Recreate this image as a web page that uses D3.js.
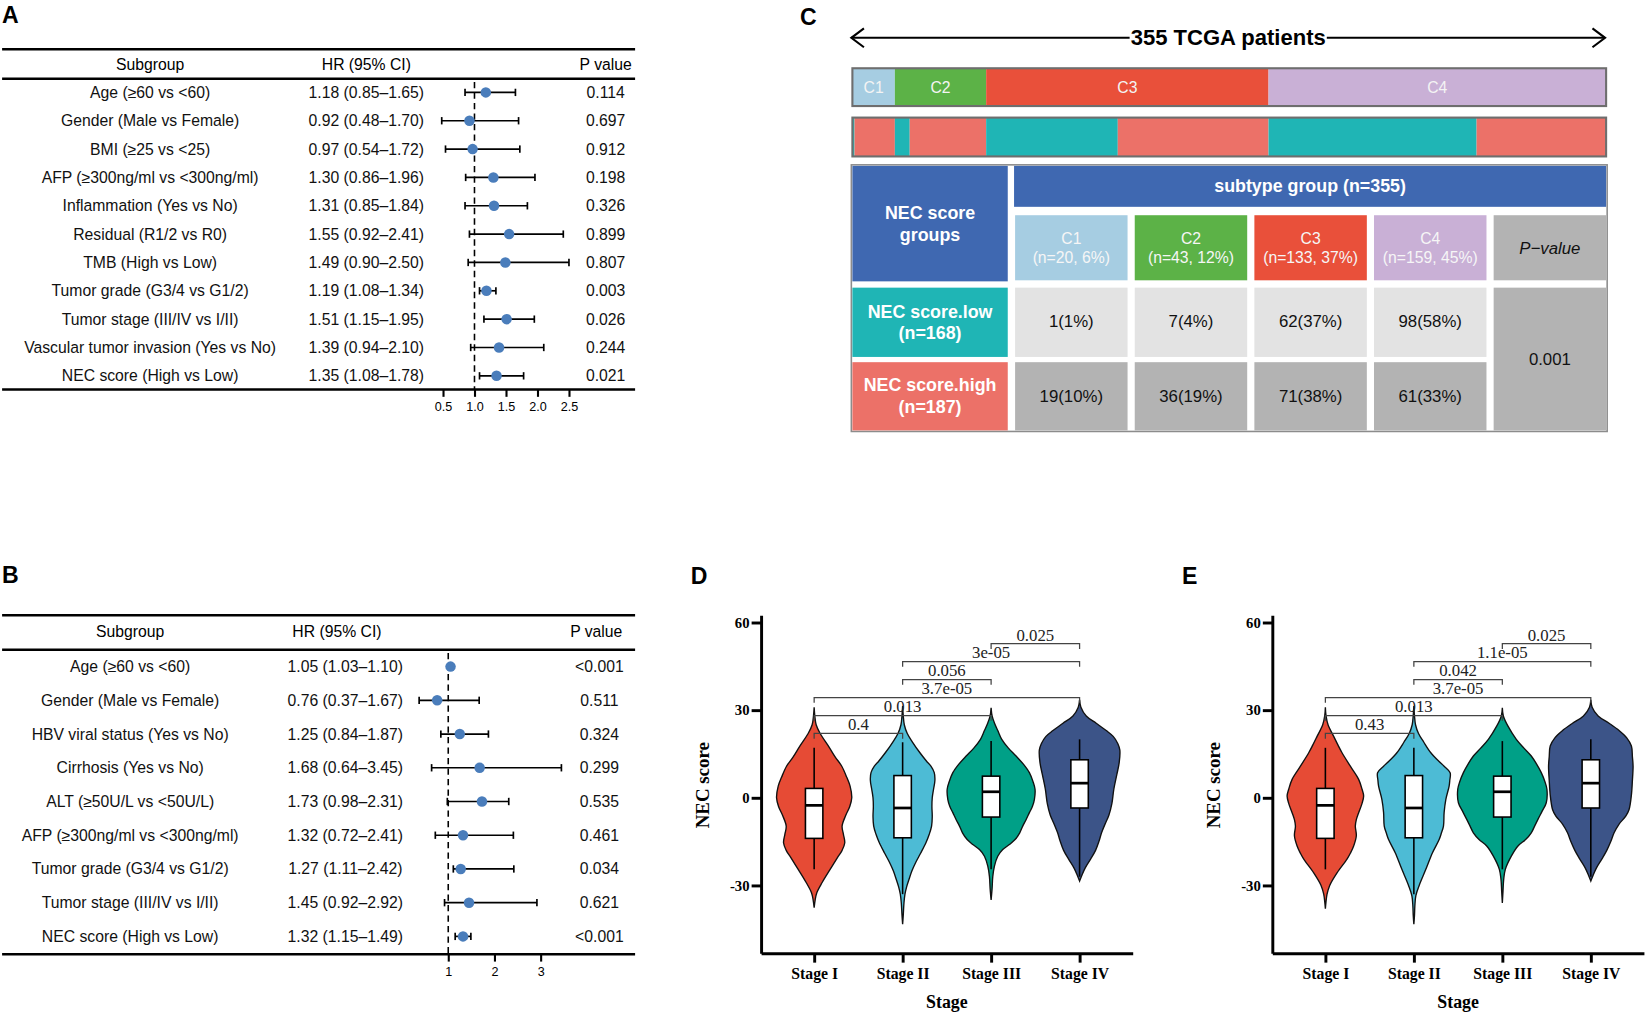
<!DOCTYPE html>
<html>
<head>
<meta charset="utf-8">
<script src="https://cdn.jsdelivr.net/npm/d3@7"></script>
<style>
  body { margin: 0; background: #fff; }
</style>
</head>
<body>
<div id="fig"></div>
<script>
const SANS = '"Liberation Sans", Arial, sans-serif';
const SERIF = '"Liberation Serif", "Times New Roman", serif';

// ---- A: univariate cox
let aSubgroups = ['Age (≥60 vs <60)', 'Gender (Male vs Female)', 'BMI (≥25 vs <25)',
    'AFP (≥300ng/ml vs <300ng/ml)', 'Inflammation (Yes vs No)', 'Residual (R1/2 vs R0)',
    'TMB (High vs Low)', 'Tumor grade (G3/4 vs G1/2)', 'Tumor stage (III/IV vs I/II)',
    'Vascular tumor invasion (Yes vs No)', 'NEC score (High vs Low)'];
let aHR = [1.18, 0.92, 0.97, 1.30, 1.31, 1.55, 1.49, 1.19, 1.51, 1.39, 1.35];
let aLower = [0.85, 0.48, 0.54, 0.86, 0.85, 0.92, 0.90, 1.08, 1.15, 0.94, 1.08];
let aUpper = [1.65, 1.70, 1.72, 1.96, 1.84, 2.41, 2.50, 1.34, 1.95, 2.10, 1.78];
let aPvals = ['0.114', '0.697', '0.912', '0.198', '0.326', '0.899', '0.807', '0.003', '0.026', '0.244', '0.021'];
let aTicks = [0.5, 1.0, 1.5, 2.0, 2.5];

// ---- B: second cohort
let bSubgroups = ['Age (≥60 vs <60)', 'Gender (Male vs Female)', 'HBV viral status (Yes vs No)',
    'Cirrhosis (Yes vs No)', 'ALT (≥50U/L vs <50U/L)', 'AFP (≥300ng/ml vs <300ng/ml)',
    'Tumor grade (G3/4 vs G1/2)', 'Tumor stage (III/IV vs I/II)', 'NEC score (High vs Low)'];
let bHR = [1.05, 0.76, 1.25, 1.68, 1.73, 1.32, 1.27, 1.45, 1.32];
let bLower = [1.03, 0.37, 0.84, 0.64, 0.98, 0.72, 1.11, 0.92, 1.15];
let bUpper = [1.10, 1.67, 1.87, 3.45, 2.31, 2.41, 2.42, 2.92, 1.49];
let bPvals = ['<0.001', '0.511', '0.324', '0.299', '0.535', '0.461', '0.034', '0.621', '<0.001'];
let bTicks = [1, 2, 3];

// ---- C: subtype vs NEC group
let subtypes = ['C1', 'C2', 'C3', 'C4'];
let subtypeN = [20, 43, 133, 159];
let necLowN = [1, 7, 62, 98];
let necHighN = [19, 36, 71, 61];
let chiP = '0.001';

// ---- D / E: NEC score by stage, violin profiles [score, density]
let stages = ['Stage I', 'Stage II', 'Stage III', 'Stage IV'];
let dDensI = [[31,0],[28,2],[25,6],[22,18],[17.7,43],[14,63],[10.8,83],[7,98],[4,108],[0,113],[-3,107],[-6,95],[-9.7,84],[-12.5,88],[-15.4,92],[-18,84],[-20.5,70],[-24.5,48],[-29,24],[-32.5,8],[-35,3],[-37.6,0]];
let dDensII = [[31.4,0],[28,2],[25,5],[22,14],[19,30],[15.4,52],[12.5,72],[10.8,85],[8.6,95],[6,97],[3,93],[0,89],[-3,88],[-6.5,89],[-9.7,87],[-12.5,80],[-15.4,70],[-19,54],[-22,40],[-25,28],[-28,19],[-30.5,12],[-33,7],[-36,4],[-40,2],[-43.3,0]];
let dDensIII = [[30.8,0],[28,3],[25.6,10],[23,20],[20,32],[17,52],[14.3,75],[11.5,97],[8.6,115],[5.5,126],[2.9,132],[-0.6,130],[-3,124],[-5.1,115],[-7.5,105],[-9.7,95],[-12,86],[-14.3,72],[-16,55],[-17.7,35],[-20,20],[-23.4,10],[-27,5],[-31,3],[-35,0]];
let dDensIV = [[33.5,0],[31,4],[28,20],[25.5,50],[23,80],[21,101],[18.5,115],[16.3,121],[12,119],[8,112],[3,103],[-2,97],[-6,88],[-8.6,78],[-12,66],[-15,58],[-18,48],[-21,33],[-24,17],[-26.5,7],[-28.5,0]];
let eDensI = [[31,0],[28,2],[25,8],[21,25],[18,38],[15.4,50],[10.8,75],[6.3,100],[3,110],[0.6,115],[-2,110],[-5.1,100],[-7.5,93],[-9.7,90],[-13,93],[-16.5,85],[-19,75],[-21,65],[-25.7,35],[-30,13],[-33,5],[-35.5,2],[-38,0]];
let eDensII = [[31.4,0],[28,2],[25,5],[22,14],[19,30],[15.4,51],[12.5,75],[10.8,91],[8.6,109],[6,108],[4,106],[-0.6,96],[-5,91],[-9.7,89],[-12,83],[-14.3,76],[-18.8,56],[-24.5,36],[-30,16],[-33.5,6],[-37,3],[-40,2],[-43.3,0]];
let eDensIII = [[30.8,0],[28,3],[24.5,17],[20,42],[17,65],[14.3,87],[11.5,103],[8.6,117],[5.5,128],[2.9,134],[-1.7,132],[-4.5,120],[-7.4,107],[-9.7,97],[-12,87],[-14.3,70],[-16.5,47],[-20,27],[-24.5,9],[-28,4],[-32,2],[-36,0]];
let eDensIV = [[33.5,0],[31,4],[28,22],[25.5,55],[23,85],[20.5,108],[17.7,122],[14,125],[10.8,127],[6,125],[1,122],[-4,115],[-6.3,105],[-9,85],[-12,70],[-15,60],[-18,48],[-21,33],[-24,17],[-26.5,7],[-28.5,0]];
// [lower whisker, q1, median, q3, upper whisker]
let dBox = [[-24.5, -13.9, -2.6, 3.2, 17.1], [-33, -13.7, -3.5, 7.6, 19], [-24.5, -6.6, 2.05, 7.4, 19.4], [-27, -3.5, 5, 13, 20]];
let eBox = [[-24.5, -13.9, -2.6, 3.2, 17.1], [-33, -13.7, -3.5, 7.6, 17.1], [-24.5, -6.6, 2.05, 7.4, 19.4], [-27, -3.5, 5, 13, 20]];
let comparisons = [[0, 1], [0, 2], [0, 3], [1, 2], [1, 3], [2, 3]];
let dPvals = ['0.4', '0.013', '3.7e-05', '0.056', '3e-05', '0.025'];
let ePvals = ['0.43', '0.013', '3.7e-05', '0.042', '1.1e-05', '0.025'];
let stageColors = ['#e64b35', '#4dbbd5', '#00a087', '#3c5488'];

let svg = d3.select('#fig').append('svg')
    .attr('width', 1646)
    .attr('height', 1012)
    .attr('viewBox', '0 0 1568 964');

// panel letters
[['A', 2, 22], ['B', 2, 555], ['C', 762, 24], ['D', 658, 556], ['E', 1126, 556]].forEach(l => {
    svg.append('text').attr('x', l[1]).attr('y', l[2]).text(l[0])
        .attr('font-size', 22).attr('font-weight', 'bold').style('font-family', SANS);
});

function forest(cfg) {
    let g = svg.append('g');
    let x = d3.scaleLinear().domain(cfg.domain).range(cfg.range);
    let y = d3.scalePoint().domain(cfg.labels).range(cfg.rowRange);
    let rows = cfg.labels.map((l, i) => ({label: l, hr: cfg.hr[i], lo: cfg.lo[i], hi: cfg.hi[i], p: cfg.p[i]}));

    [cfg.top, cfg.headLine, cfg.bottom].forEach(yy => {
        g.append('line').attr('x1', 2).attr('x2', 605).attr('y1', yy).attr('y2', yy)
            .attr('stroke', '#000').attr('stroke-width', 2.4);
    });
    let head = [['Subgroup', cfg.labelX], ['HR (95% CI)', cfg.hrHeadX], ['P value', cfg.pHeadX]];
    g.selectAll('.head').data(head).enter().append('text')
        .attr('x', d => d[1]).attr('y', cfg.headY)
        .attr('text-anchor', 'middle').attr('dominant-baseline', 'central')
        .attr('font-size', 15).style('font-family', SANS).text(d => d[0]);

    // reference line at HR = 1
    g.append('line')
        .attr('x1', x(1)).attr('x2', x(1)).attr('y1', cfg.headLine + 3).attr('y2', cfg.bottom)
        .attr('stroke', '#000').attr('stroke-width', 1.5).attr('stroke-dasharray', '6,4');

    let r = g.selectAll('.row').data(rows).enter().append('g')
        .attr('transform', d => `translate(0,${y(d.label)})`);
    r.append('text').attr('x', cfg.labelX).text(d => d.label);
    r.append('text').attr('x', cfg.hrX)
        .text(d => `${d.hr.toFixed(2)} (${d.lo.toFixed(2)}–${d.hi.toFixed(2)})`);
    r.append('text').attr('x', cfg.pX).text(d => d.p);
    r.selectAll('text').attr('text-anchor', 'middle').attr('dominant-baseline', 'central')
        .attr('font-size', 15).style('font-family', SANS).attr('fill', '#111');

    r.append('line').attr('x1', d => x(d.lo)).attr('x2', d => x(d.hi))
        .attr('stroke', '#000').attr('stroke-width', 1.6);
    r.append('line').attr('x1', d => x(d.lo)).attr('x2', d => x(d.lo)).attr('y1', -3.5).attr('y2', 3.5)
        .attr('stroke', '#000').attr('stroke-width', 1.6);
    r.append('line').attr('x1', d => x(d.hi)).attr('x2', d => x(d.hi)).attr('y1', -3.5).attr('y2', 3.5)
        .attr('stroke', '#000').attr('stroke-width', 1.6);
    r.append('circle').attr('cx', d => x(d.hr)).attr('r', 5).attr('fill', '#4a7dbb');

    let ax = g.append('g').attr('transform', `translate(0,${cfg.bottom})`)
        .call(d3.axisBottom(x).tickValues(cfg.ticks).tickSize(7).tickPadding(5).tickFormat(cfg.fmt));
    ax.select('.domain').remove();
    ax.selectAll('.tick line').attr('stroke-width', 2);
    ax.selectAll('text').attr('font-size', 12).style('font-family', SANS);
}

forest({
    labels: aSubgroups, hr: aHR, lo: aLower, hi: aUpper, p: aPvals, ticks: aTicks,
    domain: [0.5, 2.5], range: [422, 542], rowRange: [88, 358], fmt: d3.format('.1f'),
    top: 47, headLine: 75, bottom: 371, headY: 61,
    labelX: 143, hrX: 349, hrHeadX: 349, pX: 577, pHeadX: 577
});
forest({
    labels: bSubgroups, hr: bHR, lo: bLower, hi: bUpper, p: bPvals, ticks: bTicks,
    domain: [1, 3], range: [427, 515], rowRange: [635, 892], fmt: d3.format('d'),
    top: 586, headLine: 619, bottom: 909, headY: 602,
    labelX: 124, hrX: 329, hrHeadX: 321, pX: 571, pHeadX: 568
});

// ---- panel C
function panelC() {
    let g = svg.append('g');
    let total = d3.sum(subtypeN);
    let lowColor = '#1fb5b5', highColor = '#ec7168', blue = '#3f68b1';
    let subColors = ['#a6cde2', '#5cb247', '#e9503a', '#c9b0d6'];

    // arrow header
    let t = g.append('text').attr('x', 1170).attr('y', 36)
        .attr('text-anchor', 'middle').attr('dominant-baseline', 'central')
        .attr('font-size', 21).attr('font-weight', 'bold').style('font-family', SANS)
        .text(`${total} TCGA patients`);
    let tw = t.node().getComputedTextLength();
    g.append('line').attr('x1', 811).attr('x2', 1170 - tw / 2 - 1).attr('y1', 36).attr('y2', 36)
        .attr('stroke', '#000').attr('stroke-width', 2);
    g.append('line').attr('x1', 1170 + tw / 2 + 1).attr('x2', 1529).attr('y1', 36).attr('y2', 36)
        .attr('stroke', '#000').attr('stroke-width', 2);
    g.append('path').attr('d', 'M823,27 L811,36 L823,45').attr('fill', 'none').attr('stroke', '#000').attr('stroke-width', 2);
    g.append('path').attr('d', 'M1517,27 L1529,36 L1517,45').attr('fill', 'none').attr('stroke', '#000').attr('stroke-width', 2);

    let bx = d3.scaleLinear().domain([0, total]).range([812, 1530]);
    let starts = [0, ...d3.cumsum(subtypeN)];

    // subtype strip
    subtypes.forEach((s, i) => {
        g.append('rect').attr('x', bx(starts[i])).attr('y', 65)
            .attr('width', bx(starts[i + 1]) - bx(starts[i])).attr('height', 36)
            .attr('fill', subColors[i]);
        g.append('text').attr('x', (bx(starts[i]) + bx(starts[i + 1])) / 2).attr('y', 83)
            .attr('text-anchor', 'middle').attr('dominant-baseline', 'central')
            .attr('font-size', 15).style('font-family', SANS).attr('fill', '#f4f4f4').text(s);
    });
    g.append('rect').attr('x', 812).attr('y', 65).attr('width', 718).attr('height', 36)
        .attr('fill', 'none').attr('stroke', '#6e6e6e').attr('stroke-width', 2);

    // NEC group strip
    let seg = [];
    subtypes.forEach((s, i) => {
        seg.push({grp: 0, n: necLowN[i]});
        seg.push({grp: 1, n: necHighN[i]});
    });
    let cum = 0;
    seg.forEach(d => { d.x0 = cum; cum += d.n; d.x1 = cum; });
    g.selectAll('.seg').data(seg).enter().append('rect')
        .attr('x', d => bx(d.x0)).attr('width', d => bx(d.x1) - bx(d.x0))
        .attr('y', 112).attr('height', 37)
        .attr('fill', d => d.grp === 0 ? lowColor : highColor);
    g.append('rect').attr('x', 812).attr('y', 112).attr('width', 718).attr('height', 37)
        .attr('fill', 'none').attr('stroke', '#6e6e6e').attr('stroke-width', 2);

    // table
    g.append('rect').attr('x', 811).attr('y', 157).attr('width', 720).attr('height', 254)
        .attr('fill', '#fff').attr('stroke', '#8c8c8c').attr('stroke-width', 1.5);
    let col = d3.scaleBand().domain([...subtypes, 'P']).range([967, 1530]).paddingInner(0.06);
    let cell = (x, y, w, h, fill) => g.append('rect').attr('x', x).attr('y', y)
        .attr('width', w).attr('height', h).attr('fill', fill);
    let label = (x, y, lines, opts) => {
        let tx = g.append('text').attr('x', x).attr('y', y).attr('text-anchor', 'middle')
            .attr('font-size', opts.size).style('font-family', SANS)
            .attr('font-weight', opts.bold ? 'bold' : 'normal')
            .attr('font-style', opts.italic ? 'italic' : 'normal')
            .attr('fill', opts.color);
        lines.forEach((l, i) => tx.append('tspan').attr('x', x)
            .attr('dy', i === 0 ? `${0.35 - (lines.length - 1) * 0.6}em` : '1.2em').text(l));
    };

    cell(812, 158, 148, 110, blue);
    label(886, 213, ['NEC score', 'groups'], {size: 17, bold: true, color: '#fff'});
    cell(966, 158, 564, 39, blue);
    label(1248, 177, [`subtype group (n=${total})`], {size: 17, bold: true, color: '#fff'});

    subtypes.forEach((s, i) => {
        let x0 = col(s), w = col.bandwidth();
        cell(x0, 205, w, 62, subColors[i]);
        label(x0 + w / 2, 236, [s, `(n=${subtypeN[i]}, ${Math.round(subtypeN[i] / total * 100)}%)`],
            {size: 15, color: '#f6f6f6'});
        let nLow = d3.sum(necLowN), nHigh = d3.sum(necHighN);
        cell(x0, 274, w, 66, '#e3e3e3');
        label(x0 + w / 2, 306, [`${necLowN[i]}(${Math.round(necLowN[i] / nLow * 100)}%)`], {size: 16, color: '#111'});
        cell(x0, 345, w, 65, '#b3b3b3');
        label(x0 + w / 2, 377, [`${necHighN[i]}(${Math.round(necHighN[i] / nHigh * 100)}%)`], {size: 16, color: '#111'});
    });
    let px = col('P'), pw = col.bandwidth();
    cell(px, 205, pw, 62, '#b3b3b3');
    label(px + pw / 2, 236, ['P−value'], {size: 16, italic: true, color: '#111'});
    cell(px, 274, pw, 136, '#b3b3b3');
    label(px + pw / 2, 342, [chiP], {size: 16, color: '#111'});

    cell(812, 274, 148, 66, lowColor);
    label(886, 307, ['NEC score.low', `(n=${d3.sum(necLowN)})`], {size: 17, bold: true, color: '#fff'});
    cell(812, 345, 148, 65, highColor);
    label(886, 377, ['NEC score.high', `(n=${d3.sum(necHighN)})`], {size: 17, bold: true, color: '#fff'});
}
panelC();

// ---- panels D and E
function violinPanel(cfg) {
    let g = svg.append('g');
    let y = d3.scaleLinear().domain([-53.2, 62.5]).range([908, 586]);
    let x = d3.scalePoint().domain(stages).range([cfg.x0, cfg.x0 + 354]).padding(0.6);
    let w = d3.scaleLinear().domain([0, 100]).range([0, 31.7]);

    stages.forEach((s, i) => {
        let cx = x(s);
        let area = d3.area().curve(d3.curveCatmullRom.alpha(0.5))
            .y(d => y(d[0])).x0(d => cx - w(d[1])).x1(d => cx + w(d[1]));
        g.append('path').datum(cfg.dens[i]).attr('d', area)
            .attr('fill', stageColors[i]).attr('stroke', '#111').attr('stroke-width', 1.3);
        let b = cfg.box[i];
        g.append('line').attr('x1', cx).attr('x2', cx).attr('y1', y(b[0])).attr('y2', y(b[4]))
            .attr('stroke', '#000').attr('stroke-width', 1.5);
        g.append('rect').attr('x', cx - 8.3).attr('width', 16.6)
            .attr('y', y(b[3])).attr('height', y(b[1]) - y(b[3]))
            .attr('fill', '#fff').attr('stroke', '#000').attr('stroke-width', 1.5);
        g.append('line').attr('x1', cx - 8.3).attr('x2', cx + 8.3).attr('y1', y(b[2])).attr('y2', y(b[2]))
            .attr('stroke', '#000').attr('stroke-width', 2.6);
    });

    // pairwise comparison brackets
    comparisons.forEach((c, i) => {
        let yy = y(22 + i * 6.15);
        let x1 = x(stages[c[0]]), x2 = x(stages[c[1]]);
        g.append('path').attr('d', `M${x1},${yy + 5} V${yy} H${x2} V${yy + 5}`)
            .attr('fill', 'none').attr('stroke', '#444').attr('stroke-width', 1.2);
        g.append('text').attr('x', (x1 + x2) / 2).attr('y', yy - 3).attr('text-anchor', 'middle')
            .attr('font-size', 16).style('font-family', SERIF).attr('fill', '#222').text(cfg.pvals[i]);
    });

    let yAxis = g.append('g').attr('transform', `translate(${cfg.x0},0)`)
        .call(d3.axisLeft(y).tickValues([-30, 0, 30, 60]).tickSize(9).tickSizeOuter(0).tickPadding(2)
            .tickFormat(d => String(d)));
    let xAxis = g.append('g').attr('transform', 'translate(0,908)')
        .call(d3.axisBottom(x).tickSize(9).tickSizeOuter(0).tickPadding(5));
    [yAxis, xAxis].forEach(a => {
        a.selectAll('.domain, .tick line').attr('stroke', '#000').attr('stroke-width', 2.8);
        a.selectAll('text').style('font-family', SERIF).attr('font-weight', 'bold').attr('fill', '#000');
    });
    yAxis.selectAll('text').attr('font-size', 14);
    xAxis.selectAll('text').attr('font-size', 15);

    g.append('text').attr('transform', `translate(${cfg.x0 - 56},748) rotate(-90)`)
        .attr('text-anchor', 'middle').attr('dominant-baseline', 'central')
        .attr('font-size', 18).attr('font-weight', 'bold').style('font-family', SERIF).text('NEC score');
    g.append('text').attr('x', (x(stages[0]) + x(stages[3])) / 2).attr('y', 960)
        .attr('text-anchor', 'middle')
        .attr('font-size', 17).attr('font-weight', 'bold').style('font-family', SERIF).text('Stage');
}

violinPanel({x0: 725, dens: [dDensI, dDensII, dDensIII, dDensIV], box: dBox, pvals: dPvals});
violinPanel({x0: 1212, dens: [eDensI, eDensII, eDensIII, eDensIV], box: eBox, pvals: ePvals});
</script>
</body>
</html>
